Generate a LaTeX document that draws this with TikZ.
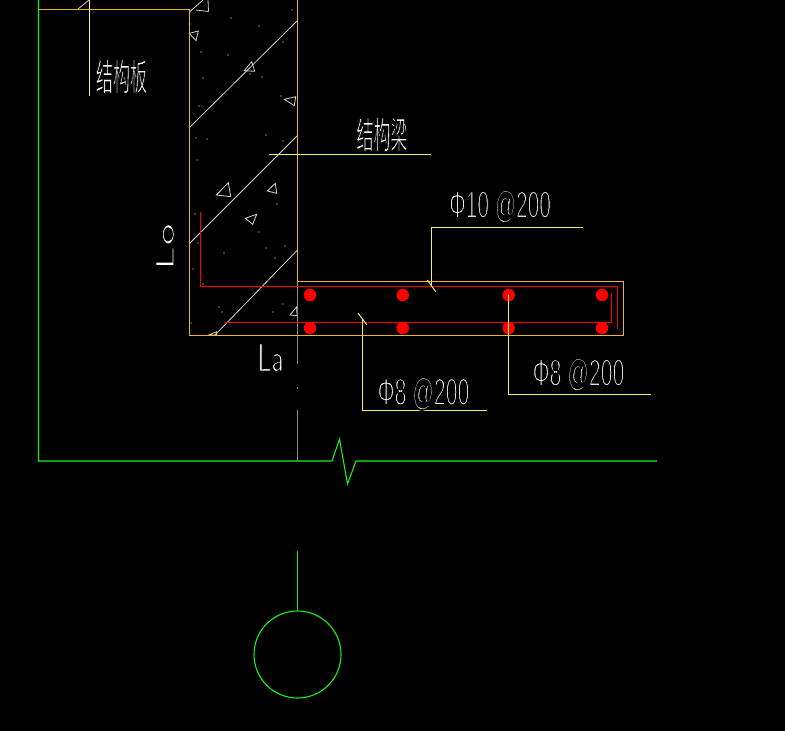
\documentclass[tikz,border=0pt]{standalone}
\usepackage{fontspec}
\setmainfont{Latin Modern Sans}
\newfontfamily\cjk{Noto Sans CJK SC}
\newfontfamily\lat{Liberation Sans}
\definecolor{cadorange}{HTML}{F0B428}
\definecolor{cadgreen}{HTML}{19F019}
\definecolor{cadyellow}{HTML}{F5F064}
\definecolor{cadpale}{HTML}{F8F0A0}
\definecolor{cadgray}{HTML}{D2D2D2}
\definecolor{cadgrayb}{HTML}{8C8C8C}
\tikzset{
  edge/.style={draw=cadorange,line width=1pt},
  green line/.style={draw=cadgreen,line width=1.1pt},
  leader/.style={draw=cadyellow,line width=1pt},
  hatch/.style={draw=cadgray,line width=.8pt},
  rebar/.style={draw=red,line width=1.1pt},
  axisline/.style={draw=cadgrayb,line width=1pt},
  bar/.style={circle,fill=red,inner sep=0pt,minimum size=12.5pt},
  speck/.style={circle,fill=white,inner sep=0pt,minimum size=1.2pt},
  lbl/.style={text=white,inner sep=0pt},
}
\newcommand{\aggr}[3]{\draw[hatch] (#1) -- (#2) -- (#3) -- cycle;}
% glyphs filled white and edged in black, so that they come out as thin as CAD strokes
\newcommand{\thinned}[2]{\special{pdf:code q 2 Tr 0 0 0 RG #1 w}#2\special{pdf:code Q}}
\begin{document}
\begin{tikzpicture}[x=1pt,y=-1pt]
\fill[black] (0,0) rectangle (785,731);
\useasboundingbox (0,0) rectangle (785,731);
% green outline
\coordinate (g1) at (38.5,0);
\coordinate (g2) at (38.5,461);
\coordinate (g3) at (332,461);
\coordinate (g4) at (339.5,439);
\coordinate (g5) at (347.5,484);
\coordinate (g6) at (356,461);
\coordinate (g7) at (657,461);
\draw[green line] (g1) -- (g2) -- (g3) -- (g4) -- (g5) -- (g6) -- (g7);
% hatch
\begin{scope}
\clip (189.5,0) rectangle (297.5,335);
\draw[hatch] (189.5,127.5) -- (297,21);
\draw[hatch] (189.5,243.5) -- (297,136);
\draw[hatch] (215,335) -- (297,250.5);
\draw[hatch] (189.5,12) -- (203,0);
\end{scope}
\draw[hatch] (78,9) -- (89,0);
% aggregate
\draw[hatch] (208.5,11.5) -- (196,10) (208.5,11.5) -- (208,0);
\aggr{189.3,33.3}{198.3,31}{196,40.7}
\aggr{244.3,70.7}{251.7,61.7}{254.7,71.3}
\aggr{284.3,99.3}{295.7,96.7}{294.3,105.7}
\aggr{216.3,195}{228.3,182.7}{230.7,196.7}
\aggr{267.3,191}{275.3,183.3}{276.7,193.3}
\aggr{245.3,218.3}{256.7,214.3}{252.7,224.3}
\aggr{290,315}{296.7,306.7}{297,315.7}
\aggr{208.7,335}{216.7,331.7}{216.7,335}
\foreach \p in {(231,18),(259,26),(292,10),(283,42),(201,52),(228,55),(190,24),(203,78),(250,74),(262,77),(281,96),(199,106),(196,138),(207,139),(266,135),(283,141),(197,160),
(277,204),(195,214),(259,232),(198,243),(224,253),(266,248),(285,246),(275,258),(193,269),(203,284),(219,307),(222,312),(283,304),(273,312),(191,323)}
  \node[speck] at \p {};
% axis line
\coordinate (a1) at (297.5,281);
\coordinate (a2) at (297.5,364);
\coordinate (a3) at (297.5,410);
\coordinate (a4) at (297.5,461);
\draw[axisline] (a1) -- (a2);
\draw[axisline] (a3) -- (a4);
\draw[axisline] (297.5,387) -- (297.5,389);
% concrete edges
\draw[edge] (38.5,9.5) -- (189.5,9.5) -- (189.5,335) -- (623,335) -- (623,281.5) -- (297.5,281.5) -- (297.5,0);
\draw[draw=cadpale,line width=1pt] (89,0) -- (89,96);
% rebar
\draw[rebar] (200.5,212) -- (200.5,286.5) -- (617.3,286.5) -- (617.3,329);
\draw[rebar] (225,322.5) -- (611.7,322.5) -- (611.7,294);
\foreach \n/\x/\y in {a/310/295,b/402.7/295,c/508.7/295,d/602/295,e/310/328,f/402.7/328,g/508.7/328,h/602/328}
  \node[bar] (bar\n) at (\x,\y) {};
% leaders
\coordinate (l1a) at (583,227.5);
\coordinate (l1b) at (431.5,227.5);
\coordinate (l1c) at (431.5,287);
\draw[leader] (l1a) -- (l1b) -- (l1c);
\draw[leader] (427.3,280) -- (435.7,291.7);
\coordinate (l2a) at (487,410.5);
\coordinate (l2b) at (362.3,410.5);
\coordinate (l2c) at (362.3,319);
\draw[leader] (l2a) -- (l2b) -- (l2c);
\draw[leader] (358,313) -- (366.7,324.7);
\coordinate (l3a) at (651,394);
\coordinate (l3b) at (508.5,394);
\draw[leader] (l3a) -- (l3b) -- (l3b |- barc.center);
\coordinate (u1) at (269,154);
\coordinate (u2) at (431,154);
\draw[leader] (u1) -- (u2);
% axis bubble
\node[circle,draw=cadgreen,line width=1.1pt,minimum size=87pt,inner sep=0pt] (axis) at (297.5,654.5) {};
\coordinate (a5) at (297.5,551);
\draw[green line] (a5) -- (axis.north);
% texts
\node[lbl,font=\cjk\fontsize{37}{37}\selectfont,xscale=.46] (t1) at (121.5,76.5) {\thinned{.9}{结构板}};
\node[lbl,font=\cjk\fontsize{37}{37}\selectfont,xscale=.46] (t2) at (382,134.5) {\thinned{.9}{结构梁}};
\node[lbl,font=\lat\fontsize{38}{38}\selectfont,xscale=.55] (t3) at (500,206.5) {\thinned{1.6}{Φ10 @200}};
\node[lbl,font=\lat\fontsize{38}{38}\selectfont,xscale=.56] (t4) at (578.5,374.5) {\thinned{1.6}{Φ8 @200}};
\node[lbl,font=\lat\fontsize{38}{38}\selectfont,xscale=.56] (t5) at (423.5,393.7) {\thinned{1.6}{Φ8 @200}};
\node[lbl,font=\fontsize{48}{48}\selectfont,rotate=90,yscale=.54] (t6) at (165,246.5) {\thinned{1.5}{Lo}};
\node[lbl,font=\fontsize{40}{40}\selectfont,xscale=.68] (t7) at (270.5,357.5) {\thinned{1.2}{La}};
\end{tikzpicture}
\end{document}
